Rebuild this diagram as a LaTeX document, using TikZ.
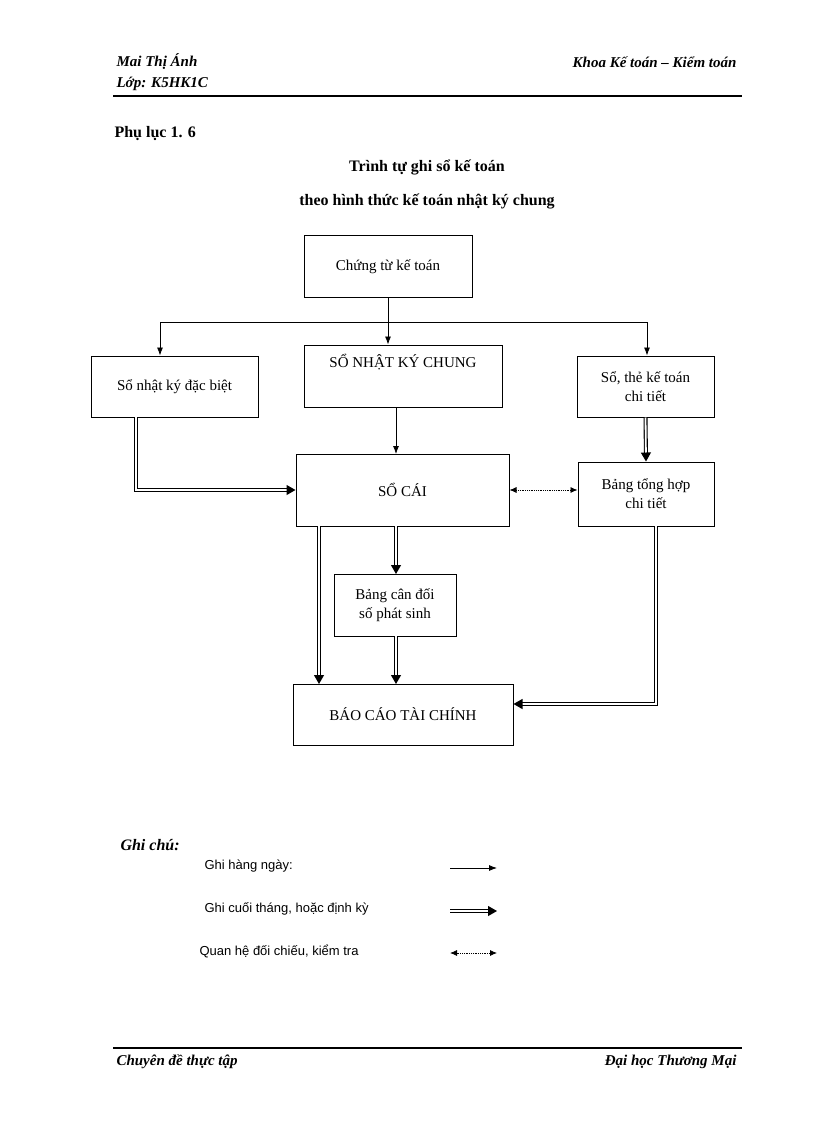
\documentclass[tikz,border=0pt]{standalone}
\usepackage{fontspec}
\setmainfont{Liberation Serif}
\newfontfamily\arialf{Liberation Sans}
\usetikzlibrary{arrows.meta}
\begin{document}
\begin{tikzpicture}[x=1pt,y=-1pt,
  box/.style={draw,line width=1pt,minimum width=#1,align=center,inner sep=0pt,font=\fontsize{15}{19}\selectfont},
  daily/.style={line width=0.8pt,-{Latex[length=8pt,width=6pt]}},
  endp/.style={double=white,double distance=1.8pt,line width=1.1pt,-{Triangle[length=9pt,width=10pt]}},
  chk/.style={line width=0.8pt,densely dotted,{Latex[length=7pt,width=6pt]}-{Latex[length=7pt,width=6pt]}},
  hdr/.style={font=\fontsize{15}{18}\selectfont\bfseries\itshape}]
\useasboundingbox (0,0) rectangle (816,1123);
% header
\node[hdr,anchor=west] (h1) at (113,62) {Mai Thị Ánh};
\node[hdr,anchor=west] (h2) at (113,84) {Lớp: K5HK1C};
\node[hdr,anchor=east] (h3) at (740,62) {Khoa Kế toán – Kiểm toán};
\draw[line width=1.5pt] (113,96) -- (742,96);
\node[font=\fontsize{16}{19}\selectfont\bfseries,anchor=west] (pl) at (111,134) {Phụ lục 1. 6};
\node[font=\fontsize{16}{19}\selectfont\bfseries] (t1) at (427,167) {Trình tự ghi sổ kế toán};
\node[font=\fontsize{16}{19}\selectfont\bfseries] (t2) at (427,201) {theo hình thức kế toán nhật ký chung};
% boxes
\node[box=168pt,minimum height=61pt] (ct) at (388,266.5) {Chứng từ kế toán};
\node[box=167pt,minimum height=61pt] (db) at (174.5,386.5) {Sổ nhật ký đặc biệt};
\node[box=198pt,minimum height=62pt] (nkc) at (403,376) {SỔ NHẬT KÝ CHUNG\\[12pt]};
\node[box=137pt,minimum height=61pt] (st) at (645.5,386.5) {Sổ, thẻ kế toán\\chi tiết};
\node[box=213pt,minimum height=72pt] (sc) at (402.5,490) {SỔ CÁI};
\node[box=136pt,minimum height=64pt] (th) at (646,494) {Bảng tổng hợp\\chi tiết};
\node[box=122pt,minimum height=62pt] (cd) at (395,605) {Bảng cân đối\\số phát sinh};
\node[box=220pt,minimum height=61pt] (bc) at (403,714.5) {BÁO CÁO TÀI CHÍNH};
% connectors
\coordinate (j) at (388,322);
\coordinate (jl) at (160,322);
\coordinate (jr) at (647,322);
\draw[line width=0.8pt] (ct.south -| j) -- (j);
\draw[daily] (j) -- (j |- nkc.north);
\draw[daily] (jl) -- (jr) -- (jr |- st.north);
\draw[daily] (jl) -- (jl |- db.north);
\draw[daily] (396,407) -- (396,454);
\coordinate (dbb) at (136,417);
\coordinate (dbc) at (136,490);
\draw[endp] (dbb) -- (dbc) -- (sc.west);
\draw[endp] (st.south) -- (th.north);
\draw[chk] (sc.east) -- (sc.east -| th.west);
\draw[endp] (319,526) -- (319,684);
\draw[endp] (396,526) -- (396,574);
\draw[endp] (396,636) -- (396,684);
\coordinate (thb) at (656,526);
\coordinate (thc) at (656,704);
\draw[endp] (thb) -- (thc) -- (bc.east |- thc);
% legend
\node[font=\fontsize{16}{19}\selectfont\bfseries\itshape,anchor=west] (gc) at (117,845) {Ghi chú:};
\node[font=\arialf\fontsize{13}{16}\selectfont,anchor=west] (l1) at (201,866) {Ghi hàng ngày:};
\node[font=\arialf\fontsize{13}{16}\selectfont,anchor=west] (l2) at (201,909) {Ghi cuối tháng, hoặc định kỳ};
\node[font=\arialf\fontsize{13}{16}\selectfont,anchor=west] (l3) at (196,951) {Quan hệ đối chiếu, kiểm tra};
\coordinate (a1) at (450,868); \coordinate (b1) at (497,868);
\coordinate (a2) at (450,911); \coordinate (b2) at (497,911);
\coordinate (a3) at (450,953); \coordinate (b3) at (497,953);
\draw[daily] (a1) -- (b1);
\draw[endp] (a2) -- (b2);
\draw[chk] (a3) -- (b3);
% footer
\draw[line width=1.5pt] (113,1048) -- (742,1048);
\node[hdr,anchor=west] (f1) at (113,1062) {Chuyên đề thực tập};
\node[hdr,anchor=east] (f2) at (740,1062) {Đại học Thương Mại};
\end{tikzpicture}
\end{document}
